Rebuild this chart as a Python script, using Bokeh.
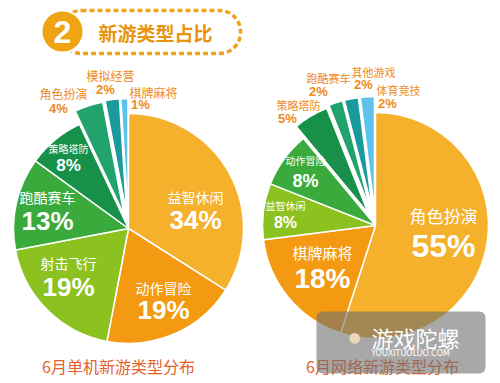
import math
from bokeh.plotting import figure
from bokeh.models import Range1d, BoxAnnotation, Label
from bokeh.core.properties import value
from bokeh.embed import file_html
from bokeh.resources import INLINE

# ---------------- data ----------------
left_title = "6月单机新游类型分布"
left_cats = ["益智休闲", "动作冒险", "射击飞行", "跑酷赛车", "策略塔防", "角色扮演", "模拟经营", "棋牌麻将"]
left_vals = [34, 19, 19, 13, 8, 4, 2, 1]

right_title = "6月网络新游类型分布"
right_cats = ["角色扮演", "棋牌麻将", "益智休闲", "动作冒险", "策略塔防", "跑酷赛车", "其他游戏", "体育竞技"]
right_vals = [55, 18, 8, 8, 5, 2, 2, 2]

header_num = "2"
header_text = "新游类型占比"

# ---------------- styles ----------------
W, H = 500, 383
CJK = "Noto Sans CJK SC"
NUM = "Liberation Sans"

YEL = "#F5B02C"
ORG = "#F39A12"
LGR = "#8CC220"
GRN = "#3BAA3C"
DGR = "#17914A"
TGR = "#22A36E"
TEAL = "#1A9A9C"
LBL = "#5DC3EC"

left_colors = [YEL, ORG, LGR, GRN, DGR, TGR, TEAL, LBL]
right_colors = [YEL, ORG, LGR, GRN, DGR, TGR, TEAL, LBL]
left_explode = [0, 0, 0, 0, 0, 14, 15, 15]
right_explode = [0, 0, 0, 0, 14, 16, 16, 16]

# label styles: (inside?, name pos, pct pos, name size, pct size)
left_lab = [
    (True, (195, 196), (195, 219), 14, 26),
    (True, (163, 287), (163, 309), 14, 26),
    (True, (68, 262), (68, 286), 14, 26),
    (True, (47, 196), (47, 220), 14, 26),
    (True, (68, 148), (68, 165), 10, 17),
    (False, (63, 93), (58, 108), 12, 13),
    (False, (110, 75), (105, 89), 12, 13),
    (False, (153, 92), (140, 104), 12, 13),
]
right_lab = [
    (True, (443, 215), (443, 245), 17, 32),
    (True, (322, 252), (322, 278), 15, 28),
    (True, (285, 205), (285, 222), 10, 16),
    (True, (305, 160), (305, 180), 10, 18),
    (False, (298, 104), (287, 118), 11, 13),
    (False, (328, 77), (318, 91), 11, 13),
    (False, (373, 71), (363, 84), 11, 13),
    (False, (398, 89), (387, 103), 11, 13),
]


def P(x, y):
    """page pixel -> data coords"""
    return x, H - y


p = figure(width=W, height=H, output_backend="svg", toolbar_location=None,
           x_range=Range1d(0, W), y_range=Range1d(0, H),
           min_border=0, min_border_left=0, min_border_right=0,
           min_border_top=0, min_border_bottom=0)
p.axis.visible = False
p.grid.visible = False
p.outline_line_color = None
p.background_fill_color = "white"
p.border_fill_color = "white"


def draw_pie(cx, cy, r, vals, cats, colors, explode, labs, title, title_pos):
    total = float(sum(vals))
    c0 = 0.0
    xs, ys, sa, ea = [], [], [], []
    for v, off in zip(vals, explode):
        c1 = c0 + v / total
        mid = (c0 + c1) / 2
        th = math.pi / 2 - 2 * math.pi * mid
        xs.append(cx + off * math.cos(th))
        ys.append(cy + off * math.sin(th))
        sa.append(math.pi / 2 - 2 * math.pi * c0)
        ea.append(math.pi / 2 - 2 * math.pi * c1)
        c0 = c1
    p.wedge(x=xs, y=ys, radius=r, start_angle=sa, end_angle=ea, direction="clock",
            fill_color=colors, line_color="white", line_width=1.5)
    for cat, v, lab in zip(cats, vals, labs):
        inside, npos, ppos, ns, ps = lab
        col = "white" if inside else "#EE8A1C"
        nx, ny = P(*npos)
        px_, py_ = P(*ppos)
        p.text(x=[nx], y=[ny], text=[cat], text_font=value(CJK), text_font_size=f"{ns}px",
               text_color=col, text_align="center", text_baseline="middle")
        p.text(x=[px_], y=[py_], text=[f"{v}%"], text_font=value(NUM), text_font_size=f"{ps}px",
               text_font_style="bold", text_color=col, text_align="center", text_baseline="middle")
    tx, ty = P(*title_pos)
    p.text(x=[tx], y=[ty], text=[title], text_font=value(CJK), text_font_size="16px",
           text_color="#E5612C", text_align="center", text_baseline="middle")


lcx, lcy = P(128, 228)
draw_pie(lcx, lcy, 115, left_vals, left_cats, left_colors, left_explode, left_lab,
         left_title, (118, 365))
rcx, rcy = P(375, 225)
draw_pie(rcx, rcy, 113, right_vals, right_cats, right_colors, right_explode, right_lab,
         right_title, (382, 365))

# ---------------- header ----------------
bl, bt = P(60, 10)
br, bb = P(240, 53)
p.add_layout(BoxAnnotation(left=bl, right=br, top=bt, bottom=bb, fill_color=None,
                           line_color="#F0A21A", line_alpha=1.0, line_width=3.5, line_dash="5 3",
                           border_radius=21, level="underlay"))
hx, hy = P(62, 31)
p.circle(x=[hx], y=[hy], radius=21, fill_color="#EEA413", line_color="white", line_width=2)
p.text(x=[hx], y=[hy], text=[header_num], text_font=value("Liberation Sans"), text_font_size="32px",
       text_font_style="bold", text_color="white", text_align="center", text_baseline="middle")
tx, ty = P(155, 32)
p.text(x=[tx], y=[ty], text=[header_text], text_font=value(CJK), text_font_size="19px",
       text_font_style="bold", text_color="#E8940E", text_align="center", text_baseline="middle")

# ---------------- watermark ----------------
wl, wt = P(316, 311)
wr, wb = P(485, 373)
p.add_layout(BoxAnnotation(left=wl, right=wr, top=wt, bottom=wb, fill_color="#6E6E6E",
                           fill_alpha=0.6, line_color=None, border_radius=6))
lx, ly = P(415, 336)
p.add_layout(Label(x=lx, y=ly, text="游戏陀螺", text_font=CJK, text_font_size="22px",
                   text_color="white", text_align="center", text_baseline="middle"))
lx, ly = P(410, 353)
p.add_layout(Label(x=lx, y=ly, text="YOUXITUOLUO.COM", text_font="DejaVu Sans",
                   text_font_size="8px", text_color="white", text_align="center",
                   text_baseline="middle"))
ex, ey = P(354, 336)
p.add_layout(Label(x=ex, y=ey, text="●", text_font="DejaVu Sans", text_font_size="14px",
                   text_color="#E8D8B8", text_align="center", text_baseline="middle"))

open("out.html", "w").write(file_html(p, INLINE))
